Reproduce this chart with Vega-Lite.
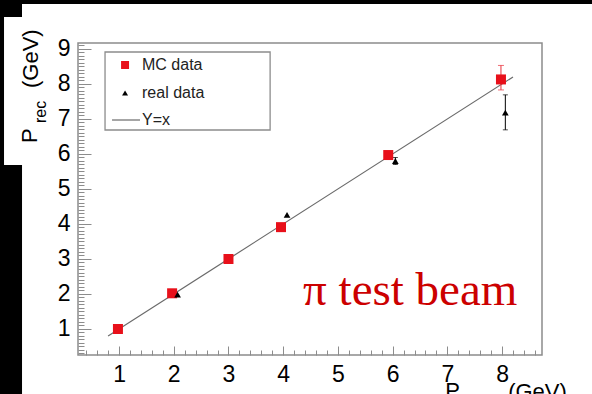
{
  "$schema": "https://vega.github.io/schema/vega-lite/v6.json",
  "width": 464,
  "height": 312,
  "autosize": {"type": "none"},
  "padding": {"left": 78, "top": 43, "right": 50, "bottom": 39},
  "background": "white",
  "config": {
    "view": {"stroke": "#8c8c8c", "strokeWidth": 1.5},
    "font": "Liberation Sans",
    "axis": {"grid": false, "domain": false, "title": null, "tickColor": "#8c8c8c", "tickWidth": 1, "labelColor": "#000000", "labelFont": "Liberation Sans", "labelFontSize": 23, "labelFlush": false, "labelOverlap": false}
  },
  "datasets": {
    "pts": [
      {"series": "MC data", "p": 0.98, "rec": 1.0},
      {"series": "MC data", "p": 1.97, "rec": 2.02},
      {"series": "MC data", "p": 3.0, "rec": 3.0},
      {"series": "MC data", "p": 3.96, "rec": 3.91},
      {"series": "MC data", "p": 5.92, "rec": 5.97},
      {"series": "MC data", "p": 7.98, "rec": 8.13, "lo": 7.83, "hi": 8.53},
      {"series": "real data", "p": 2.07, "rec": 1.98},
      {"series": "real data", "p": 4.07, "rec": 4.26},
      {"series": "real data", "p": 6.05, "rec": 5.8, "lo": 5.7, "hi": 5.9},
      {"series": "real data", "p": 8.06, "rec": 7.18, "lo": 6.69, "hi": 7.69}
    ],
    "yx": [{"p": 0.8, "rec": 0.8}, {"p": 8.2, "rec": 8.2}],
    "one": [{}]
  },
  "resolve": {"axis": {"x": "independent", "y": "independent"}},
  "layer": [
    {
      "data": {"name": "one"},
      "mark": {"type": "rect", "color": "#000000", "clip": false},
      "encoding": {
        "x": {"datum": -1.3, "type": "quantitative", "scale": {"domain": [0.25, 8.73], "nice": false, "zero": false}, "axis": null},
        "x2": {"datum": 9.8},
        "y": {"datum": 10.6, "type": "quantitative", "scale": {"domain": [0.257, 9.171], "nice": false, "zero": false}, "axis": null},
        "y2": {"datum": 10.286}
      }
    },
    {
      "data": {"name": "one"},
      "mark": {"type": "rect", "color": "#000000", "clip": false},
      "encoding": {
        "x": {"datum": -1.3, "type": "quantitative", "axis": null},
        "x2": {"datum": -0.773},
        "y": {"datum": 10.6, "type": "quantitative", "axis": null},
        "y2": {"datum": 9.914}
      }
    },
    {
      "data": {"name": "one"},
      "mark": {"type": "rect", "color": "#000000", "clip": false},
      "encoding": {
        "x": {"datum": -1.3, "type": "quantitative", "axis": null},
        "x2": {"datum": -1.102},
        "y": {"datum": 10.0, "type": "quantitative", "axis": null},
        "y2": {"datum": 5.686}
      }
    },
    {
      "data": {"name": "one"},
      "mark": {"type": "rect", "color": "#000000", "clip": false},
      "encoding": {
        "x": {"datum": -1.3, "type": "quantitative", "axis": null},
        "x2": {"datum": -0.773},
        "y": {"datum": 5.686, "type": "quantitative", "axis": null},
        "y2": {"datum": -1.2}
      }
    },
    {
      "data": {"name": "yx"},
      "mark": {"type": "line", "color": "#6a6a6a", "strokeWidth": 1.2},
      "encoding": {
        "x": {"field": "p", "type": "quantitative", "axis": {"orient": "bottom", "values": [1, 2, 3, 4, 5, 6, 7, 8], "tickSize": -9, "labelPadding": 17}},
        "y": {"field": "rec", "type": "quantitative", "axis": {"orient": "left", "values": [1, 2, 3, 4, 5, 6, 7, 8, 9], "tickSize": -13, "labelPadding": 21}}
      }
    },
    {
      "data": {"name": "pts"},
      "transform": [{"filter": "datum.series == 'MC data' && isValid(datum.lo)"}],
      "mark": {"type": "errorbar", "ticks": {"size": 6}, "color": "#e8303a"},
      "encoding": {
        "x": {"field": "p", "type": "quantitative", "axis": null},
        "y": {"field": "lo", "type": "quantitative", "axis": null},
        "y2": {"field": "hi"}
      }
    },
    {
      "data": {"name": "pts"},
      "transform": [{"filter": "datum.series == 'real data' && isValid(datum.lo)"}],
      "mark": {"type": "errorbar", "ticks": {"size": 5}, "color": "#000000"},
      "encoding": {
        "x": {"field": "p", "type": "quantitative", "axis": null},
        "y": {"field": "lo", "type": "quantitative", "axis": null},
        "y2": {"field": "hi"}
      }
    },
    {
      "data": {"name": "pts"},
      "mark": {"type": "point", "filled": true, "opacity": 1},
      "encoding": {
        "x": {"field": "p", "type": "quantitative", "axis": {"orient": "bottom", "values": [0.4, 0.6, 0.8, 1.2, 1.4, 1.6, 1.8, 2.2, 2.4, 2.6, 2.8, 3.2, 3.4, 3.6, 3.8, 4.2, 4.4, 4.6, 4.8, 5.2, 5.4, 5.6, 5.8, 6.2, 6.4, 6.6, 6.8, 7.2, 7.4, 7.6, 7.8, 8.2, 8.4, 8.6], "tickSize": -5, "labels": false}},
        "y": {"field": "rec", "type": "quantitative", "axis": {"orient": "left", "values": [0.3, 0.4, 0.5, 0.6, 0.7, 0.8, 0.9, 1.1, 1.2, 1.3, 1.4, 1.5, 1.6, 1.7, 1.8, 1.9, 2.1, 2.2, 2.3, 2.4, 2.5, 2.6, 2.7, 2.8, 2.9, 3.1, 3.2, 3.3, 3.4, 3.5, 3.6, 3.7, 3.8, 3.9, 4.1, 4.2, 4.3, 4.4, 4.5, 4.6, 4.7, 4.8, 4.9, 5.1, 5.2, 5.3, 5.4, 5.5, 5.6, 5.7, 5.8, 5.9, 6.1, 6.2, 6.3, 6.4, 6.5, 6.6, 6.7, 6.8, 6.9, 7.1, 7.2, 7.3, 7.4, 7.5, 7.6, 7.7, 7.8, 7.9, 8.1, 8.2, 8.3, 8.4, 8.5, 8.6, 8.7, 8.8, 8.9, 9.1], "tickSize": -6, "labels": false}},
        "color": {"field": "series", "type": "nominal", "scale": {"domain": ["MC data", "real data"], "range": ["#e8101a", "#000000"]}, "legend": null},
        "shape": {"field": "series", "type": "nominal", "scale": {"domain": ["MC data", "real data"], "range": ["square", "triangle-up"]}, "legend": null},
        "size": {"field": "series", "type": "nominal", "scale": {"domain": ["MC data", "real data"], "range": [100, 45]}, "legend": null}
      }
    },
    {
      "data": {"name": "one"},
      "mark": {"type": "rect", "fill": "#ffffff", "stroke": "#8c8c8c", "strokeWidth": 1.3},
      "encoding": {
        "x": {"datum": 0.744, "type": "quantitative", "axis": null},
        "x2": {"datum": 3.761},
        "y": {"datum": 8.914, "type": "quantitative", "axis": null},
        "y2": {"datum": 6.686}
      }
    },
    {
      "data": {"name": "one"},
      "mark": {"type": "point", "shape": "square", "filled": true, "color": "#e8101a", "size": 64, "opacity": 1},
      "encoding": {
        "x": {"datum": 1.11, "type": "quantitative", "axis": null},
        "y": {"datum": 8.543, "type": "quantitative", "axis": null}
      }
    },
    {
      "data": {"name": "one"},
      "mark": {"type": "point", "shape": "triangle-up", "filled": true, "color": "#000000", "size": 36, "opacity": 1},
      "encoding": {
        "x": {"datum": 1.11, "type": "quantitative", "axis": null},
        "y": {"datum": 7.743, "type": "quantitative", "axis": null}
      }
    },
    {
      "data": {"name": "one"},
      "mark": {"type": "rule", "color": "#6a6a6a", "strokeWidth": 1.2},
      "encoding": {
        "x": {"datum": 0.872, "type": "quantitative", "axis": null},
        "x2": {"datum": 1.384},
        "y": {"datum": 6.971, "type": "quantitative", "axis": null}
      }
    },
    {
      "data": {"name": "one"},
      "mark": {"type": "text", "text": "MC data", "fontSize": 16, "color": "#222222", "align": "left", "baseline": "middle"},
      "encoding": {
        "x": {"datum": 1.42, "type": "quantitative", "axis": null},
        "y": {"datum": 8.543, "type": "quantitative", "axis": null}
      }
    },
    {
      "data": {"name": "one"},
      "mark": {"type": "text", "text": "real data", "fontSize": 16, "color": "#222222", "align": "left", "baseline": "middle"},
      "encoding": {
        "x": {"datum": 1.42, "type": "quantitative", "axis": null},
        "y": {"datum": 7.743, "type": "quantitative", "axis": null}
      }
    },
    {
      "data": {"name": "one"},
      "mark": {"type": "text", "text": "Y=x", "fontSize": 16, "color": "#222222", "align": "left", "baseline": "middle"},
      "encoding": {
        "x": {"datum": 1.42, "type": "quantitative", "axis": null},
        "y": {"datum": 6.971, "type": "quantitative", "axis": null}
      }
    },
    {
      "data": {"name": "one"},
      "mark": {"type": "text", "text": "π test beam", "font": "Liberation Serif", "fontSize": 47, "color": "#cc0000", "align": "left", "baseline": "alphabetic"},
      "encoding": {
        "x": {"datum": 4.364, "type": "quantitative", "axis": null},
        "y": {"datum": 1.686, "type": "quantitative", "axis": null}
      }
    },
    {
      "data": {"name": "one"},
      "mark": {"type": "text", "text": "P", "fontSize": 22, "angle": 270, "color": "#000000", "align": "left", "baseline": "alphabetic", "clip": false},
      "encoding": {
        "x": {"datum": -0.499, "type": "quantitative", "axis": null},
        "y": {"datum": 6.314, "type": "quantitative", "axis": null}
      }
    },
    {
      "data": {"name": "one"},
      "mark": {"type": "text", "text": "rec", "fontSize": 16, "angle": 270, "color": "#000000", "align": "left", "baseline": "alphabetic", "clip": false},
      "encoding": {
        "x": {"datum": -0.33, "type": "quantitative", "axis": null},
        "y": {"datum": 6.886, "type": "quantitative", "axis": null}
      }
    },
    {
      "data": {"name": "one"},
      "mark": {"type": "text", "text": "(GeV)", "fontSize": 22, "angle": 270, "color": "#000000", "align": "left", "baseline": "alphabetic", "clip": false},
      "encoding": {
        "x": {"datum": -0.481, "type": "quantitative", "axis": null},
        "y": {"datum": 7.886, "type": "quantitative", "axis": null}
      }
    },
    {
      "data": {"name": "one"},
      "mark": {"type": "text", "text": "P", "fontSize": 22, "color": "#000000", "align": "left", "baseline": "alphabetic", "clip": false},
      "encoding": {
        "x": {"datum": 6.96, "type": "quantitative", "axis": null},
        "y": {"datum": -0.971, "type": "quantitative", "axis": null}
      }
    },
    {
      "data": {"name": "one"},
      "mark": {"type": "text", "text": "beam", "fontSize": 16, "color": "#000000", "align": "left", "baseline": "alphabetic", "clip": false},
      "encoding": {
        "x": {"datum": 7.3, "type": "quantitative", "axis": null},
        "y": {"datum": -1.257, "type": "quantitative", "axis": null}
      }
    },
    {
      "data": {"name": "one"},
      "mark": {"type": "text", "text": "(GeV)", "fontSize": 22, "color": "#000000", "align": "left", "baseline": "alphabetic", "clip": false},
      "encoding": {
        "x": {"datum": 8.112, "type": "quantitative", "axis": null},
        "y": {"datum": -1.0, "type": "quantitative", "axis": null}
      }
    }
  ]
}
